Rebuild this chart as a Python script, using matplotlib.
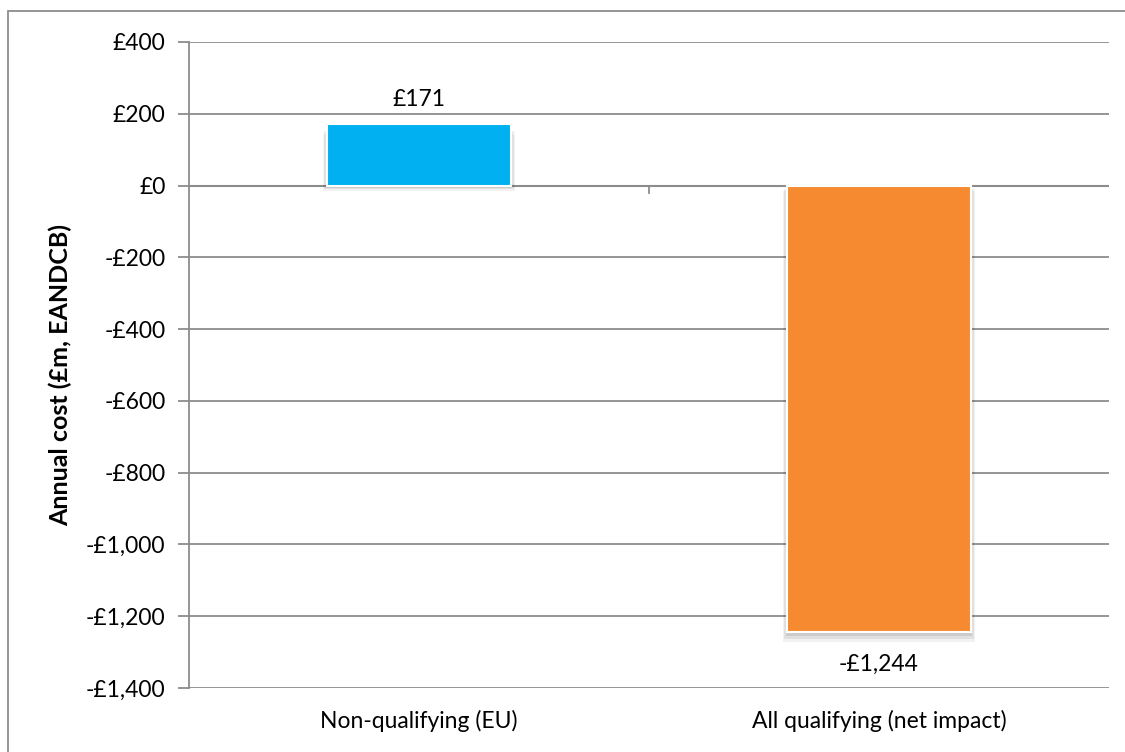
import numpy as np
import matplotlib.pyplot as plt
from matplotlib.patches import Rectangle

plt.rcParams['font.family'] = ['Lato', 'DejaVu Sans']

categories = ['Non-qualifying (EU)', 'All qualifying (net impact)']
values = [171, -1244]
colors = ['#00B0F0', '#F58A31']
yticks = [400, 200, 0, -200, -400, -600, -800, -1000, -1200, -1400]


def money(v):
    return ('-' if v < 0 else '') + '£{:,.0f}'.format(abs(v))


fs = 16.5
fig = plt.figure(figsize=(11.25, 7.52), dpi=100)
ax = fig.add_axes([189 / 1125, 1 - 688 / 752, 920 / 1125, 646 / 752])

# outer chart border
fig.patches.append(Rectangle((8 / 1125, -0.1), 1.2, 1 - 11 / 752 + 0.1,
                             transform=fig.transFigure, fill=False,
                             edgecolor='#8c8c8c', linewidth=1.3))

grid_c = '#8c8c8c'
x = np.arange(len(categories))
w = 0.4

# soft shadow around the bars
for xi, v in zip(x, values):
    sign = 1 if v > 0 else -1
    for k, a in enumerate([0.05, 0.07, 0.09]):
        off = 0.016 - k * 0.005
        ax.bar(xi, v - 14 + 4 * k, w + off, bottom=-sign * 0 - 14 + 4 * k,
               color='black', alpha=a, zorder=2, linewidth=0)

ax.bar(x, values, w, color=colors, edgecolor='white', linewidth=1.5, zorder=3)

for xi, v in zip(x, values):
    if v > 0:
        ax.text(xi, v + 40, money(v), ha='center', va='bottom', fontsize=fs)
    else:
        ax.text(xi, v - 62, money(v), ha='center', va='top', fontsize=fs)

ax.set_xlim(-0.5, 1.5)
ax.set_ylim(-1400, 400)
ax.set_yticks(yticks)
ax.set_yticklabels([money(t) for t in yticks], fontsize=fs)
ax.yaxis.grid(True, color=grid_c, linewidth=1.3)
ax.set_axisbelow(True)

for s in ['top', 'right', 'bottom']:
    ax.spines[s].set_visible(False)
ax.spines['left'].set_color(grid_c)
ax.spines['left'].set_linewidth(1.3)
ax.tick_params(axis='y', color=grid_c, length=8, width=1.3, pad=9)

# zero axis with category divider tick
ax.axhline(0, color=grid_c, linewidth=1.5, zorder=1)
ax.plot([0.5, 0.5], [0, -22], color=grid_c, linewidth=1.3, zorder=1)

ax.set_xticks(x)
ax.set_xticklabels(categories, fontsize=fs)
ax.tick_params(axis='x', length=0, pad=16)

fig.text(60 / 1125, 1 - 375 / 752, 'Annual cost (£m, EANDCB)', rotation=90,
         ha='center', va='center', fontsize=18, fontweight='bold')

fig.savefig('out.png', dpi=100)
